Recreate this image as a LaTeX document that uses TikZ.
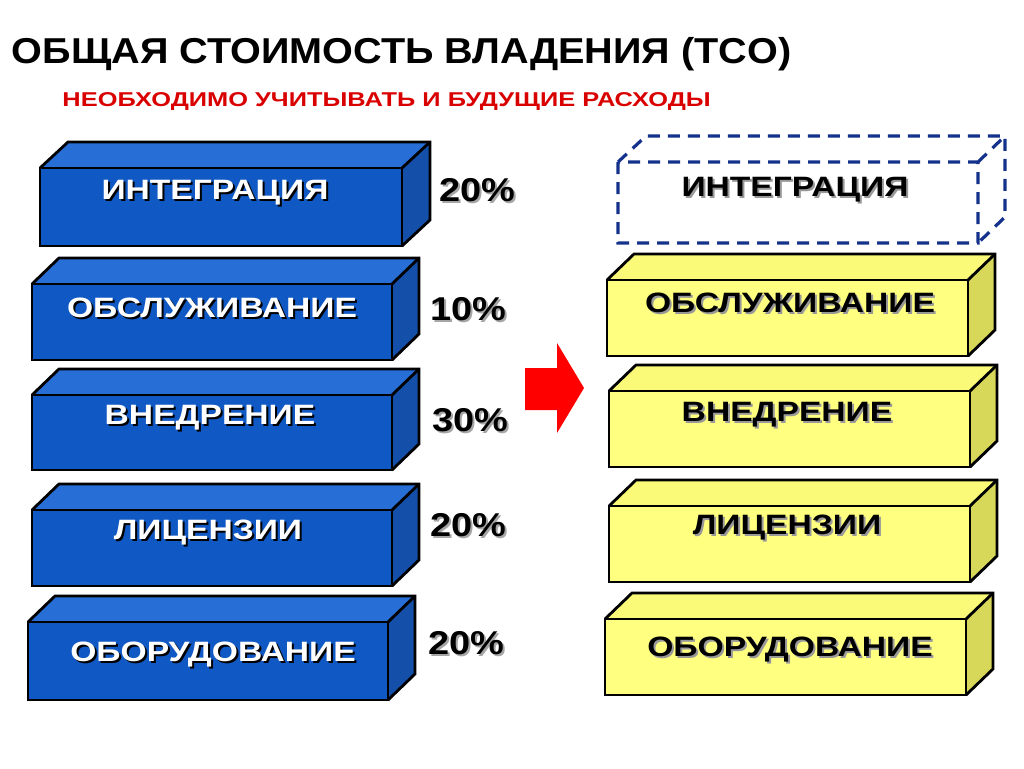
\documentclass[tikz,border=0pt]{standalone}
\usepackage{fontspec}
\setmainfont{Liberation Sans}
\begin{document}
\begin{tikzpicture}[x=1pt,y=-1pt,
  edge/.style={draw=black,line width=2.8pt,line join=miter},
  wtxt/.style={font=\bfseries\fontsize{28}{28}\selectfont,text=white,xscale=1.2},
  btxt/.style={font=\bfseries\fontsize{28}{28}\selectfont,text=black,xscale=1.2},
  pct/.style={font=\bfseries\fontsize{33}{33}\selectfont,text=black,xscale=1.15}]
\definecolor{bfront}{RGB}{16,88,196}
\definecolor{btop}{RGB}{40,110,215}
\definecolor{bside}{RGB}{20,80,170}
\definecolor{yfront}{RGB}{255,255,128}
\definecolor{ytop}{RGB}{250,250,120}
\definecolor{yside}{RGB}{215,215,90}
\definecolor{dblue}{RGB}{20,50,140}
\useasboundingbox (0,0) rectangle (1024,768);
\newcommand\cuboid[9]{%
  \fill[#9] (#3,#2) -- (#3+#5,#2-#6) -- (#3+#5,#4-#6) -- (#3,#4) -- cycle;
  \fill[#8] (#1,#2) -- (#1+#5,#2-#6) -- (#3+#5,#2-#6) -- (#3,#2) -- cycle;
  \fill[#7] (#1,#2) rectangle (#3,#4);
  \draw[edge] (#1,#2) rectangle (#3,#4);
  \draw[edge] (#1,#2) -- (#1+#5,#2-#6) -- (#3+#5,#2-#6) -- (#3+#5,#4-#6) -- (#3,#4);
  \draw[edge] (#3,#2) -- (#3+#5,#2-#6);}
\newcommand\shw[4]{\node[wtxt,text=black] at (#1+2,#2+2) {#4};\node[wtxt] (#3) at (#1,#2) {#4};}
\newcommand\shb[4]{\node[btxt,text=black!40] at (#1+2,#2+2) {#4};\node[btxt] (#3) at (#1,#2) {#4};}
\newcommand\shp[4]{\node[pct,text=black!35] at (#1+2,#2+2) {#4};\node[pct] (#3) at (#1,#2) {#4};}
% title
\node[anchor=west,font=\bfseries\fontsize{36}{36}\selectfont,xscale=1.1] (title) at (8,54) {ОБЩАЯ СТОИМОСТЬ ВЛАДЕНИЯ (TCO)};
\node[anchor=west,font=\bfseries\fontsize{20}{20}\selectfont,xscale=1.27,text=red!85!black] (sub) at (58,102) {НЕОБХОДИМО УЧИТЫВАТЬ И БУДУЩИЕ РАСХОДЫ};
% left blue boxes
\cuboid{40}{168}{402}{246}{28}{26}{bfront}{btop}{bside}
\cuboid{32}{284}{392}{360}{27}{26}{bfront}{btop}{bside}
\cuboid{32}{395}{392}{470}{27}{26}{bfront}{btop}{bside}
\cuboid{32}{510}{392}{586}{27}{26}{bfront}{btop}{bside}
\cuboid{28}{622}{388}{700}{27}{26}{bfront}{btop}{bside}
\shw{215}{193}{l1}{ИНТЕГРАЦИЯ}
\shw{212}{308}{l2}{ОБСЛУЖИВАНИЕ}
\shw{210}{418}{l3}{ВНЕДРЕНИЕ}
\shw{208}{533}{l4}{ЛИЦЕНЗИИ}
\shw{213}{655}{l5}{ОБОРУДОВАНИЕ}
% percentages
\shp{477}{190}{p1}{20\%}
\shp{468}{309}{p2}{10\%}
\shp{470}{420}{p3}{30\%}
\shp{468}{525}{p4}{20\%}
\shp{466}{643}{p5}{20\%}
% arrow
\fill[red] (525,368) -- (557,368) -- (557,343) -- (584,388) -- (557,433) -- (557,410) -- (525,410) -- cycle;
% right dashed box
\draw[dblue,line width=3.2pt,dash pattern=on 12pt off 8pt] (618,162) rectangle (978,243)
  (618,162) -- (646,136) -- (1005,136) -- (1005,217) -- (978,243) (978,162) -- (1005,136);
\shb{795}{190}{r1}{ИНТЕГРАЦИЯ}
% right yellow boxes
\cuboid{607}{280}{968}{356}{27}{26}{yfront}{ytop}{yside}
\cuboid{609}{391}{970}{467}{27}{26}{yfront}{ytop}{yside}
\cuboid{609}{506}{970}{582}{27}{26}{yfront}{ytop}{yside}
\cuboid{605}{619}{966}{695}{27}{26}{yfront}{ytop}{yside}
\shb{790}{303}{r2}{ОБСЛУЖИВАНИЕ}
\shb{787}{415}{r3}{ВНЕДРЕНИЕ}
\shb{787}{528}{r4}{ЛИЦЕНЗИИ}
\shb{790}{650}{r5}{ОБОРУДОВАНИЕ}
\end{tikzpicture}
\end{document}
